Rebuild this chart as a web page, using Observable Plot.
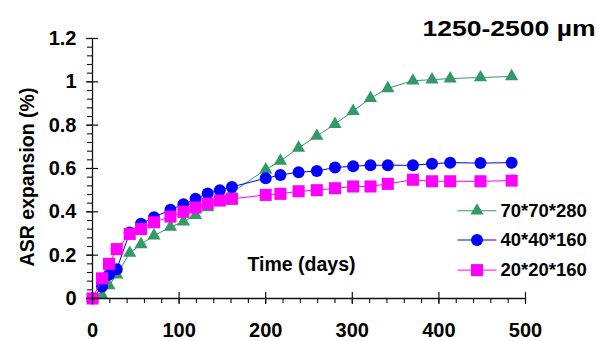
<!DOCTYPE html>
<html>
<head>
<meta charset="utf-8">
<script src="https://cdn.jsdelivr.net/npm/d3@7"></script>
<script src="https://cdn.jsdelivr.net/npm/@observablehq/plot@0.6"></script>
<style>
  html, body { margin: 0; padding: 0; background: #fff; }
  #chart svg { display: block; }
</style>
</head>
<body>
<div id="chart"></div>
<script>
const days = [0, 11, 19, 28, 43, 56, 71, 90, 105, 119, 133, 147, 161, 200, 217, 238, 259, 280, 301, 321, 341, 370, 392, 413, 448, 484];
const green70 = [0, 0.015, 0.06, 0.11, 0.21, 0.25, 0.29, 0.33, 0.355, 0.385, 0.42, 0.45, 0.49, 0.595, 0.635, 0.695, 0.75, 0.805, 0.865, 0.925, 0.97, 1.005, 1.01, 1.015, 1.02, 1.025];
const blue40 = [0, 0.055, 0.11, 0.135, 0.305, 0.345, 0.375, 0.41, 0.435, 0.46, 0.485, 0.5, 0.515, 0.555, 0.57, 0.583, 0.588, 0.605, 0.61, 0.615, 0.615, 0.615, 0.622, 0.627, 0.625, 0.627];
const magenta20 = [0, 0.093, 0.16, 0.228, 0.298, 0.321, 0.352, 0.378, 0.40, 0.42, 0.438, 0.452, 0.46, 0.478, 0.483, 0.495, 0.50, 0.509, 0.517, 0.517, 0.529, 0.548, 0.541, 0.541, 0.541, 0.544];
const seriesNames = ["70*70*280", "40*40*160", "20*20*160"];
const seriesColors = ["#339966", "#0000ff", "#ff00ff"];
const seriesSymbols = ["triangle", "circle", "square"];
const seriesR = [4.9, 6, 6.8];
const xMajor = [0, 100, 200, 300, 400, 500];
const xMinor = d3.range(0, 501, 20);
const yMajor = [0, 0.2, 0.4, 0.6, 0.8, 1, 1.2];
const yMinor = d3.range(0, 1.2001, 0.04);
const title = "1250-2500 µm";
const xLabel = "Time (days)";
const yLabel = "ASR expansion (%)";

const values = [green70, blue40, magenta20];
const seriesMarks = [];
values.forEach((vals, k) => {
  const rows = days.map((d, i) => ({d, v: vals[i]}));
  seriesMarks.push(Plot.line(rows, {x: "d", y: "v", stroke: seriesColors[k], strokeWidth: 1}));
  seriesMarks.push(Plot.dot(rows, {x: "d", y: "v", symbol: seriesSymbols[k], r: seriesR[k], fill: seriesColors[k], stroke: "none"}));
});

// legend (in plot area, data units)
const legY = [0.405, 0.27, 0.131];
const legendMarks = [];
seriesNames.forEach((name, k) => {
  legendMarks.push(Plot.line([{d: 422, v: legY[k]}, {d: 466, v: legY[k]}], {x: "d", y: "v", stroke: seriesColors[k], strokeWidth: 1}));
  legendMarks.push(Plot.dot([{d: 444, v: legY[k]}], {x: "d", y: "v", symbol: seriesSymbols[k], r: seriesR[k], fill: seriesColors[k], stroke: "none"}));
  legendMarks.push(Plot.text([name], {x: () => 471, y: () => legY[k], text: d => d, textAnchor: "start", fontSize: 18.5, fontWeight: "bold", fill: "#000"}));
});

const chart = Plot.plot({
  width: 601,
  height: 341,
  marginLeft: 92,
  marginRight: 76,
  marginTop: 38,
  marginBottom: 43,
  style: {fontFamily: "'Liberation Sans', Arial, sans-serif", fontWeight: "bold", background: "#fff"},
  x: {domain: [0, 500]},
  y: {domain: [0, 1.2]},
  marks: [
    ...seriesMarks,
    // minor ticks
    Plot.axisX(xMinor, {tickSize: 5, fill: "none", stroke: "#111", strokeWidth: 1.1}),
    Plot.axisY(yMinor, {tickSize: 5, fill: "none", stroke: "#111", strokeWidth: 1.1}),
    // major ticks (crossing)
    Plot.axisX(xMajor, {tickSize: 12, dy: -6, fill: "none", stroke: "#111", strokeWidth: 1.2}),
    Plot.axisY(yMajor, {tickSize: 12, dx: 6, fill: "none", stroke: "#111", strokeWidth: 1.2}),
    // tick labels
    Plot.axisX(xMajor, {tickSize: 0, tickPadding: 24, stroke: "none", fontSize: 20, fill: "#000", label: null, tickFormat: d3.format("d")}),
    Plot.axisY(yMajor, {tickSize: 0, tickPadding: 16, stroke: "none", fontSize: 20, fill: "#000", label: null, tickFormat: d => String(+d.toFixed(1))}),
    Plot.ruleY([0], {stroke: "#111", strokeWidth: 1.3}),
    Plot.ruleX([0], {stroke: "#111", strokeWidth: 1.3}),
    ...legendMarks,
    Plot.text([xLabel], {frameAnchor: "bottom", dx: -7.5, dy: -28, fontSize: 19.5, fontWeight: "bold", fill: "#000"}),
    Plot.text([yLabel], {frameAnchor: "left", textAnchor: "middle", rotate: -90, dx: -65, dy: 8.5, fontSize: 19.5, fontWeight: "bold", fill: "#000"}),
    Plot.text([title], {frameAnchor: "top-right", textAnchor: "end", dx: 70, dy: -18, fontSize: 22, fontWeight: "bold", fill: "#000"})
  ]
});
document.getElementById("chart").appendChild(chart);
// widen the title to match the reference's glyph spacing
d3.select(chart).selectAll("text").filter(function() { return this.textContent === title; })
  .attr("textLength", 173).attr("lengthAdjust", "spacingAndGlyphs");
</script>
</body>
</html>
